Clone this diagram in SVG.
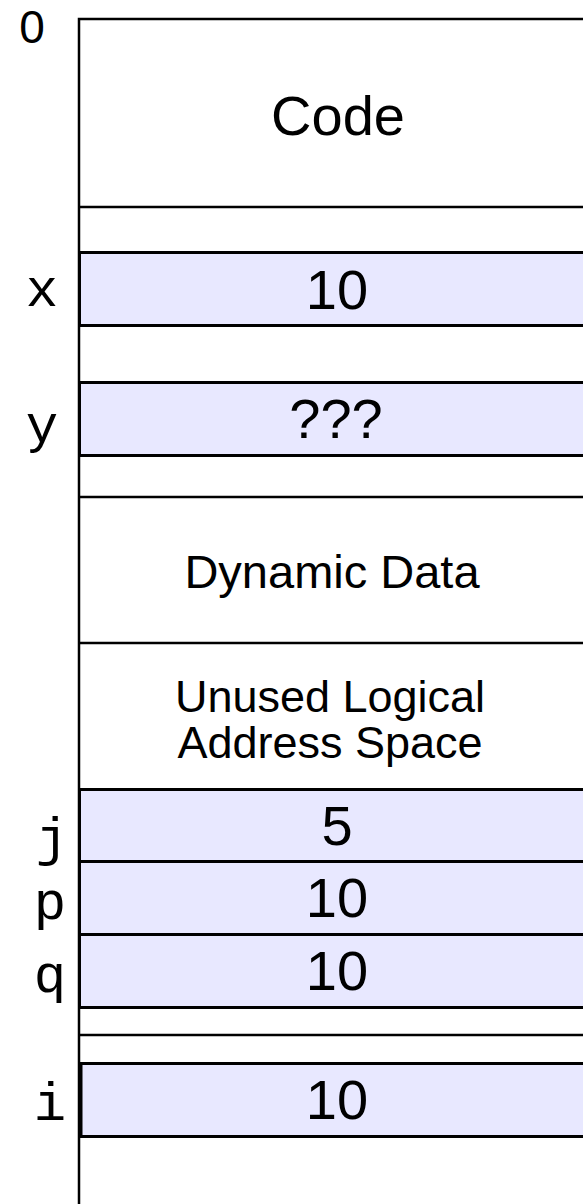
<svg xmlns="http://www.w3.org/2000/svg" width="583" height="1204" viewBox="0 0 583 1204">
  <style>
    .rule { stroke: #000; stroke-width: 2.5; fill: none; }
    .cell { fill: #e8e8ff; stroke: #000; stroke-width: 3; }
    .val { font-family: "Liberation Sans", Arial, sans-serif; text-anchor: middle; fill: #000; }
    .big { font-size: 56px; }
    .mid { font-size: 47px; }
    .name { font-family: "Liberation Mono", "Courier New", monospace; font-size: 54px; text-anchor: middle; fill: #000; }
  </style>
  <rect width="583" height="1204" fill="#fff"/>

  <!-- memory column outline and section dividers -->
  <g id="frame">
    <path class="rule" d="M79 1204 V19 H590"/>
    <path class="rule" d="M79 207 H590 M79 497 H590 M79 643 H590 M79 1035 H590"/>
    <text class="val" x="32" y="43" style="font-size:46px">0</text>
  </g>

  <g id="code">
    <text class="val big" x="338" y="135">Code</text>
  </g>

  <g id="var-x">
    <rect class="cell" x="79.5" y="252.5" width="520" height="73"/>
    <text class="val big" x="337" y="309">10</text>
    <text class="name" x="42" y="306">x</text>
  </g>

  <g id="var-y">
    <rect class="cell" x="79.5" y="382.5" width="520" height="73"/>
    <text class="val big" x="336" y="438">???</text>
    <text class="name" x="42" y="442">y</text>
  </g>

  <g id="dynamic">
    <text class="val mid" x="332" y="588">Dynamic Data</text>
  </g>

  <g id="unused">
    <text class="val" x="330" y="712" style="font-size:45px">Unused Logical</text>
    <text class="val" x="330" y="758" style="font-size:45px">Address Space</text>
  </g>

  <g id="var-j">
    <rect class="cell" x="79.5" y="789.5" width="520" height="72"/>
    <text class="val big" x="337" y="845">5</text>
    <text class="name" x="52" y="855">j</text>
  </g>

  <g id="var-p">
    <rect class="cell" x="79.5" y="861.5" width="520" height="73"/>
    <text class="val big" x="337" y="917">10</text>
    <text class="name" x="50" y="919">p</text>
  </g>

  <g id="var-q">
    <rect class="cell" x="79.5" y="934.5" width="520" height="73"/>
    <text class="val big" x="337" y="990">10</text>
    <text class="name" x="50" y="992">q</text>
  </g>

  <g id="var-i">
    <rect class="cell" x="81" y="1063.5" width="520" height="73"/>
    <text class="val big" x="337" y="1119">10</text>
    <text class="name" x="50" y="1120">i</text>
  </g>
</svg>
